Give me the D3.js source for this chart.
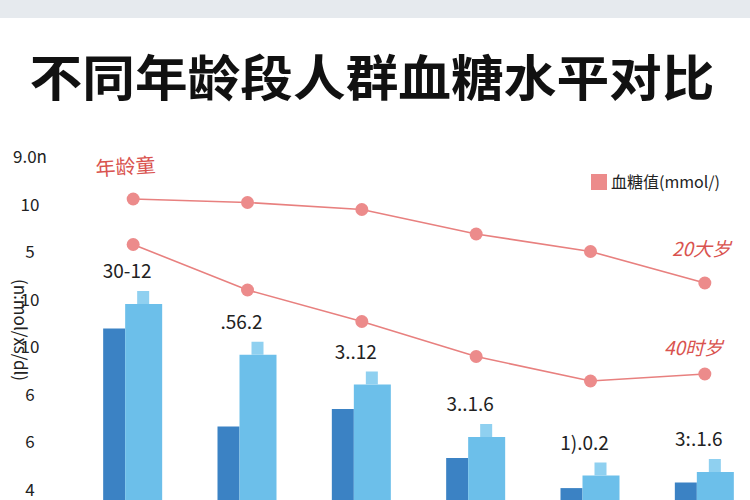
<!DOCTYPE html>
<html><head><meta charset="utf-8">
<script src="https://cdn.jsdelivr.net/npm/d3@7"></script>
<style>body{margin:0;background:#fff}</style>
</head><body>
<svg id="chart"></svg>
<script>
const groups = ["g1", "g2", "g3", "g4", "g5", "g6"];
const darkVals = [49, 21, 26, 12, 3.4, 5];
const lightVals = [56, 41.5, 33, 18, 7, 8];
const upperLine = [86, 85, 83, 76, 71, 62];
const lowerLine = [73, 60, 51, 41, 34, 36];
const barLabels = ["30-12", ".56.2", "3..12", "3..1.6", "1).0.2", "3:.1.6"];
const yTickLabels = ["9.0n", "10", "5", "10", "10", "6", "6", "4"];

const W = 750, H = 500;
const svg = d3.select("#chart").attr("width", W).attr("height", H)
  .style("font-family", "'Noto Sans CJK SC', 'Noto Sans', sans-serif");

svg.append("rect").attr("width", W).attr("height", 18).attr("fill", "#e6eaee");

svg.append("text").attr("x", 372).attr("y", 96).attr("text-anchor", "middle")
  .style("font-size", "49px").style("font-weight", "bold").attr("fill", "#111")
  .attr("textLength", 685).attr("lengthAdjust", "spacingAndGlyphs")
  .text("不同年龄段人群血糖水平对比");

const x = d3.scaleBand().domain(groups).range([76, 762]);
const y = d3.scaleLinear().domain([0, 100]).range([500, 150]);
const yTick = d3.scalePoint().domain(d3.range(yTickLabels.length)).range([157, 490]);
const cx = d => x(d) + x.bandwidth() / 2;

// y labels
svg.selectAll(".yt").data(yTickLabels).enter().append("text")
  .attr("x", 30).attr("y", (d, i) => yTick(i) + 6).attr("text-anchor", "middle")
  .style("font-size", "17px").attr("fill", "#222").text(d => d);

svg.append("text").attr("transform", "translate(14,330) rotate(90)")
  .attr("text-anchor", "middle").style("font-size", "17px").attr("fill", "#222")
  .text("(n:mol/xs/dl)");

const g = svg.selectAll(".grp").data(groups).enter().append("g");

g.append("rect")
  .attr("x", d => cx(d) - 30)
  .attr("y", (d, i) => y(darkVals[i])).attr("width", 22)
  .attr("height", (d, i) => y(0) - y(darkVals[i])).attr("fill", "#3b82c4");

g.append("rect")
  .attr("x", d => cx(d) - 8)
  .attr("y", (d, i) => y(lightVals[i])).attr("width", 37)
  .attr("height", (d, i) => y(0) - y(lightVals[i])).attr("fill", "#6cbfea");

g.append("rect")
  .attr("x", d => cx(d) + 4)
  .attr("y", (d, i) => y(lightVals[i]) - 13).attr("width", 12)
  .attr("height", 13).attr("fill", "#8fd0f0");

g.append("text")
  .attr("x", d => cx(d) - 6)
  .attr("y", (d, i) => y(lightVals[i]) - 26).attr("text-anchor", "middle")
  .style("font-size", "19px").attr("fill", "#222").text((d, i) => barLabels[i]);

// lines
[upperLine, lowerLine].forEach(vals => {
  const line = d3.line().x((d, i) => cx(groups[i])).y(d => y(d));
  svg.append("path").datum(vals).attr("d", line).attr("fill", "none")
    .attr("stroke", "#e8807f").attr("stroke-width", 1.6);
  svg.selectAll(null).data(vals).enter().append("circle")
    .attr("cx", (d, i) => cx(groups[i])).attr("cy", d => y(d)).attr("r", 6.5)
    .attr("fill", "#ec8b8b");
});

const red = "#d9534f";
svg.append("text").attr("x", 96).attr("y", 176).style("font-size", "20px")
  .attr("fill", red).attr("transform", "rotate(-4,96,176)").text("年龄童");
svg.append("text").attr("x", 672).attr("y", 256).style("font-size", "19px")
  .attr("fill", red).attr("font-style", "italic").text("20大岁");
svg.append("text").attr("x", 664).attr("y", 355).style("font-size", "19px")
  .attr("fill", red).attr("font-style", "italic").text("40时岁");

svg.append("rect").attr("x", 591).attr("y", 174).attr("width", 16).attr("height", 16)
  .attr("fill", "#ec8b8b");
svg.append("text").attr("x", 611).attr("y", 188).style("font-size", "16px")
  .attr("fill", "#222").text("血糖值(mmol/)");
</script>
</body></html>
